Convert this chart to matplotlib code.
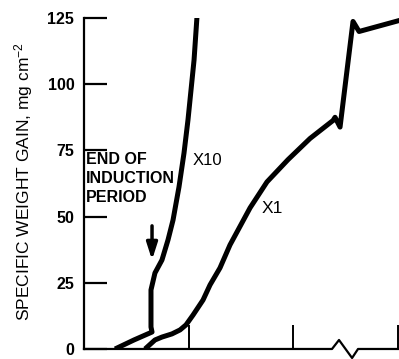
import numpy as np
import matplotlib
matplotlib.use("Agg")
import matplotlib.pyplot as plt

plt.rcParams['font.family'] = ['Liberation Sans', 'DejaVu Sans']
plt.rcParams['mathtext.fontset'] = 'custom'
plt.rcParams['mathtext.rm'] = 'Liberation Sans'
plt.rcParams['mathtext.it'] = 'Liberation Sans'

# x in tick units (no labels on the axis), y in mg/cm^2
x10_x = [0.297, 0.478, 0.651, 0.641, 0.641, 0.641, 0.679, 0.746, 0.804, 0.852, 0.909, 0.957, 0.995, 1.053, 1.081]
x10_y = [0, 3.4, 6.4, 8.3, 18.5, 22.3, 28.7, 33.6, 41.2, 48.7, 61.2, 74.0, 86.5, 109.1, 125.4]

x1_x = [0.584, 0.679, 0.746, 0.842, 0.919, 0.976, 1.043, 1.139, 1.206, 1.301, 1.397, 1.589, 1.751, 1.952,
        2.163, 2.383, 2.402, 2.450, 2.574, 2.632, 3.03]
x1_y = [0, 3.4, 4.5, 5.7, 7.2, 9.1, 12.8, 18.5, 24.2, 30.6, 39.3, 53.3, 63.1, 71.5,
        79.5, 86.3, 87.5, 83.8, 123.7, 119.9, 124.2]

yticks = [0, 25, 50, 75, 100, 125]
xticks = [1, 2, 3]
# axis break on the time axis
brk_x = [0, 2.373, 2.44, 2.565, 2.622, 3.1]
brk_y = [0, 0, 3.4, -3.4, 0, 0]

fig = plt.figure(figsize=(3.99, 3.59), dpi=100)
ax = fig.add_axes([0.2105, 0.0279, 0.7895, 0.922])

ax.plot(x10_x, x10_y, color='k', lw=3.6, solid_joinstyle='round', solid_capstyle='butt')
ax.plot(x1_x, x1_y, color='k', lw=3.6, solid_joinstyle='round', solid_capstyle='butt')
ax.plot(brk_x, brk_y, color='k', lw=1.6, clip_on=False)

ax.set_xlim(0, 3.014)
ax.set_ylim(0, 125)
for s in ['top', 'right', 'bottom']:
    ax.spines[s].set_visible(False)
ax.spines['left'].set_linewidth(1.6)

ax.set_yticks(yticks)
ax.set_xticks(xticks)
ax.set_xticklabels([])
ax.tick_params(axis='y', direction='in', length=16.5, width=1.6, pad=7, labelsize=11.5)
ax.tick_params(axis='x', direction='in', length=17, width=1.4, pad=0)
for lab in ax.get_yticklabels():
    lab.set_fontweight('bold')

ax.set_ylabel('SPECIFIC WEIGHT GAIN, mg cm$^{-2}$', fontsize=12.5)
ax.yaxis.set_label_coords(-0.155, 0.505)

ax.text(0.02, 74.5, 'END OF\nINDUCTION\nPERIOD', ha='left', va='top', fontsize=11.5,
        fontweight='bold', linespacing=1.35)
ax.text(1.044, 69.5, 'X10', ha='left', va='baseline', fontsize=12)
ax.text(1.703, 51.4, 'X1', ha='left', va='baseline', fontsize=12.5)

ax.annotate('', xy=(0.651, 33.6), xytext=(0.651, 46.5),
            arrowprops=dict(arrowstyle='-|>,head_length=1.0,head_width=0.32', lw=2.5, color='k',
                            shrinkA=0, shrinkB=0))

fig.savefig('out.png', dpi=100)
